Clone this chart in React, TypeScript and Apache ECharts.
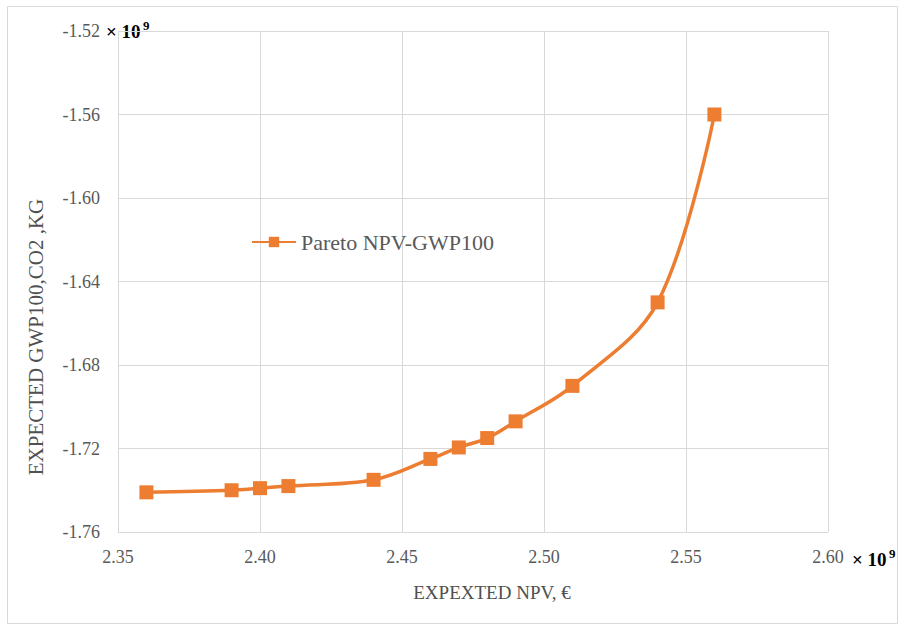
import React, { useEffect, useRef } from "react";
import * as echarts from "echarts";

// Pareto front: expected NPV (×10^9 €) against expected GWP100 (×10^9 kg CO2)
const npvValues = [2.36, 2.39, 2.40, 2.41, 2.44, 2.46, 2.47, 2.48, 2.49, 2.51, 2.54, 2.56];
const gwpValues = [-1.741, -1.740, -1.739, -1.738, -1.735, -1.725, -1.7195, -1.715, -1.707, -1.69, -1.65, -1.56];

const seriesName = "Pareto NPV-GWP100";
const xTitle = "EXPEXTED NPV, €";
const yTitle = "EXPECTED GWP100,CO2 ,KG";
const scaleBase = "× 10";
const scaleExp = "9";

const xMin = 2.35;
const xMax = 2.6;
const xStep = 0.05;
const yMin = -1.76;
const yMax = -1.52;
const yStep = 0.04;

const FONT = "Liberation Serif, serif";
const ORANGE = "#ED7D31";
const GRID = "#d9d9d9";
const LABEL = "#595959";

export default function App() {
  const ref = useRef<HTMLDivElement>(null);

  useEffect(() => {
    if (!ref.current) return;
    const chart = echarts.init(ref.current, undefined, { renderer: "svg" });
    const points = npvValues.map((x, i) => [x, gwpValues[i]]);

    // "× 10⁹" scale marks next to the last tick of each axis
    const scaleMark = (x: number, y: number) => [
      {
        type: "text",
        x,
        y,
        style: { text: scaleBase, fontFamily: FONT, fontSize: 19, fontWeight: "bold", fill: "#000", align: "left", verticalAlign: "middle" },
      },
      {
        type: "text",
        x: x + 37,
        y: y - 6,
        style: { text: scaleExp, fontFamily: FONT, fontSize: 13, fontWeight: "bold", fill: "#000", align: "left", verticalAlign: "middle" },
      },
    ];

    chart.setOption({
      animation: false,
      backgroundColor: "#fff",
      textStyle: { fontFamily: FONT },
      grid: { left: 118, right: 72, top: 31, bottom: 97, containLabel: false },
      xAxis: {
        type: "value",
        min: xMin,
        max: xMax,
        interval: xStep,
        axisLine: { show: true, lineStyle: { color: GRID, width: 1 } },
        axisTick: { show: false },
        splitLine: { show: true, lineStyle: { color: GRID, width: 1 } },
        axisLabel: {
          color: LABEL,
          fontFamily: FONT,
          fontSize: 18,
          margin: 16,
          formatter: (v: number) => v.toFixed(2),
        },
      },
      yAxis: {
        type: "value",
        min: yMin,
        max: yMax,
        interval: yStep,
        axisLine: { show: true, lineStyle: { color: GRID, width: 1 } },
        axisTick: { show: false },
        splitLine: { show: true, lineStyle: { color: GRID, width: 1 } },
        axisLabel: {
          color: LABEL,
          fontFamily: FONT,
          fontSize: 18,
          margin: 18,
          formatter: (v: number) => v.toFixed(2),
        },
      },
      legend: {
        left: 251,
        top: 231,
        padding: 0,
        itemWidth: 44,
        itemHeight: 13,
        textStyle: { color: LABEL, fontFamily: FONT, fontSize: 22 },
        data: [seriesName],
      },
      series: [
        {
          name: seriesName,
          type: "line",
          data: points,
          smooth: 0.35,
          symbol: "rect",
          symbolSize: 14,
          lineStyle: { color: ORANGE, width: 3.5 },
          itemStyle: { color: ORANGE },
        },
      ],
      graphic: [
        {
          type: "rect",
          shape: { x: 7.5, y: 6.5, width: 890, height: 617 },
          style: { fill: "none", stroke: GRID, lineWidth: 1 },
          z: -1,
        },
        {
          type: "text",
          x: 492,
          y: 592,
          style: { text: xTitle, fontFamily: FONT, fontSize: 19, fill: "#505050", align: "center", verticalAlign: "middle" },
        },
        {
          type: "text",
          x: 36,
          y: 337,
          rotation: Math.PI / 2,
          style: { text: yTitle, fontFamily: FONT, fontSize: 21, fill: "#505050", align: "center", verticalAlign: "middle" },
        },
        ...scaleMark(106, 31),
        ...scaleMark(852, 559),
      ],
    });
    return () => chart.dispose();
  }, []);

  return (
    <div
      ref={ref}
      style={{ position: "absolute", left: 0, top: 0, width: 900, height: 629, background: "#fff" }}
    />
  );
}
